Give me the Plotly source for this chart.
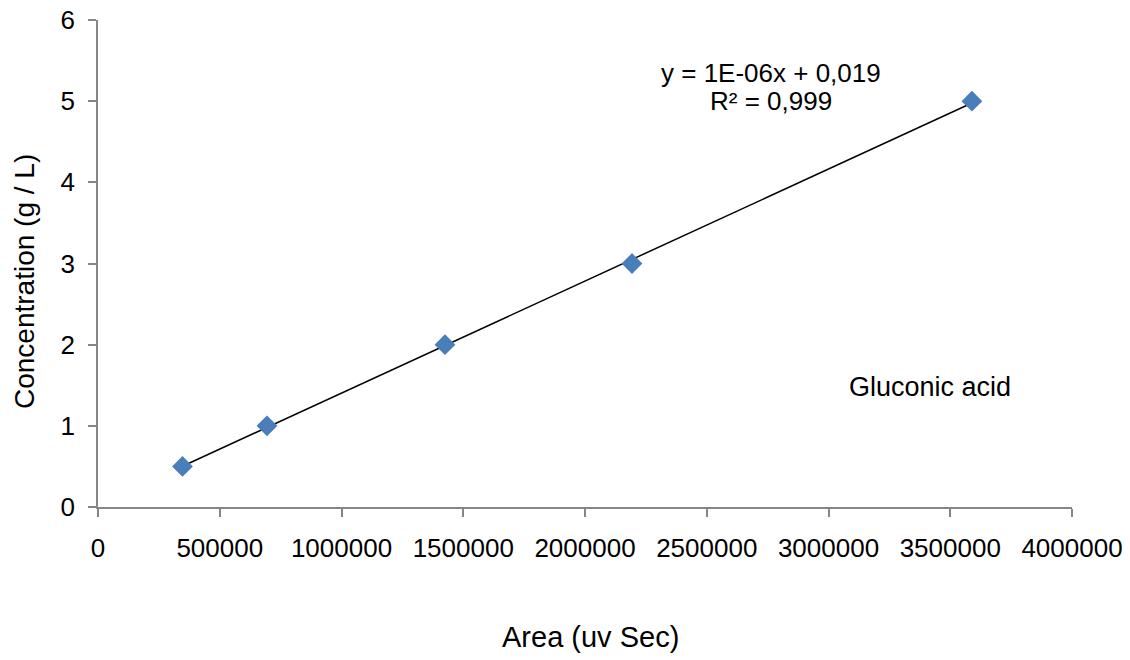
import numpy as np
import plotly.graph_objects as go

area = [347000, 694000, 1425000, 2193000, 3589000]
conc = [0.5, 1, 2, 3, 5]
x_ticks = [0, 500000, 1000000, 1500000, 2000000, 2500000, 3000000, 3500000, 4000000]
y_ticks = [0, 1, 2, 3, 4, 5, 6]
eq_line1 = "y = 1E-06x + 0,019"
eq_line2 = "R² = 0,999"
label_text = "Gluconic acid"
x_title = "Area (uv Sec)"
y_title = "Concentration (g / L)"

slope, intercept = np.polyfit(area, conc, 1)
fx = [min(area), max(area)]
fy = [slope * v + intercept for v in fx]

FONT = "Liberation Sans, Arial, sans-serif"
AX = "#868686"
FS = 26

L, T, R, B = 98, 20, 1072, 507
def px(xp):
    return (xp - L) / (R - L)
def py(yp):
    return (B - yp) / (B - T)

fig = go.Figure()
fig.add_trace(go.Scatter(x=fx, y=fy, mode="lines",
                         line=dict(color="black", width=1.5), showlegend=False,
                         hoverinfo="skip"))
fig.add_trace(go.Scatter(x=area, y=conc, mode="markers",
                         marker=dict(symbol="diamond", size=16, color="#4A7EBB",
                                     line=dict(width=0)), showlegend=False))

ann = dict(xref="paper", yref="paper", showarrow=False, xanchor="center", yanchor="middle")
fig.update_layout(
    width=1130, height=660,
    margin=dict(l=L, r=1130 - R, t=T, b=660 - B),
    paper_bgcolor="white", plot_bgcolor="white",
    font=dict(family=FONT, size=FS, color="black"),
    xaxis=dict(range=[0, 4000000], tickvals=x_ticks, ticktext=[str(v) for v in x_ticks],
               showgrid=False, zeroline=False, showline=True, linecolor=AX, linewidth=1.5,
               ticks="outside", ticklen=8, tickcolor=AX, tickwidth=1.5,
               ticklabelstandoff=9, tickfont=dict(size=FS), automargin=False),
    yaxis=dict(range=[0, 6], tickvals=y_ticks, ticktext=[str(v) for v in y_ticks],
               showgrid=False, zeroline=False, showline=True, linecolor=AX, linewidth=1.5,
               ticks="outside", ticklen=8, tickcolor=AX, tickwidth=1.5,
               ticklabelstandoff=8, tickfont=dict(size=FS), automargin=False),
    annotations=[
        dict(ann, text=x_title, x=px(590), y=0, yshift=-130, font=dict(size=29)),
        dict(ann, text=y_title, x=0, y=py(282), xshift=-74, textangle=-90,
             font=dict(size=28)),
        dict(ann, text=eq_line1, x=px(771), y=py(73), font=dict(size=FS)),
        dict(ann, text=eq_line2, x=px(771), y=py(101), font=dict(size=FS)),
        dict(ann, text=label_text, x=px(930), y=py(387), font=dict(size=27)),
    ],
)

fig.write_html("out.html")
